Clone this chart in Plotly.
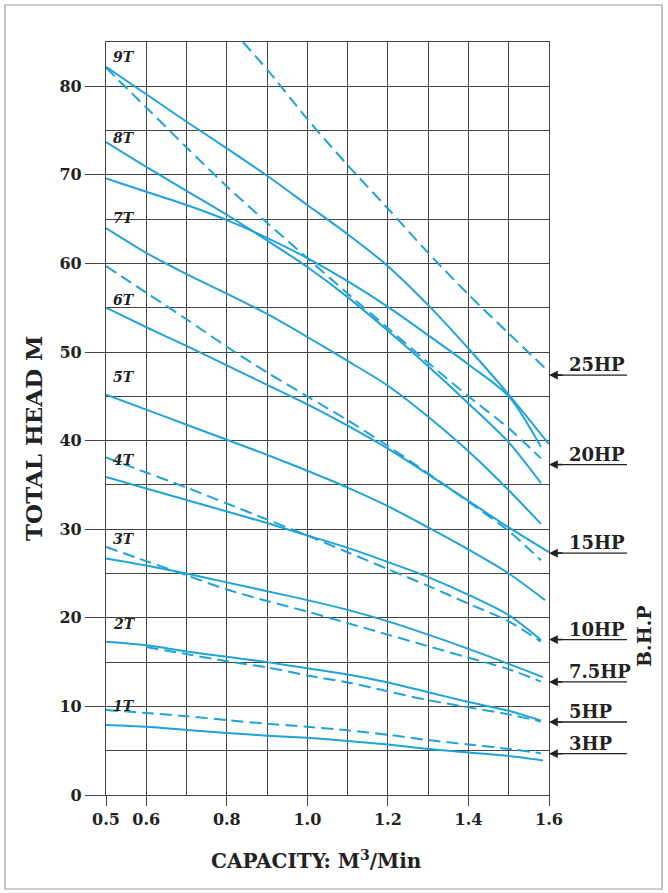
import plotly.graph_objects as go

# ---------------- data ----------------
q = [0.5, 0.6, 0.7, 0.8, 0.9, 1.0, 1.1, 1.2, 1.3, 1.4, 1.5]

# solid pump curves (total head, m)
q_9T = q + [1.60]
h_9T = [82.2, 79.1, 76.0, 73.0, 69.9, 66.6, 63.3, 59.7, 55.3, 50.4, 45.2, 39.6]
q_8Tb = q + [1.58]
h_8Tb = [69.6, 68.1, 66.6, 64.9, 62.9, 60.6, 58.0, 55.1, 51.9, 48.6, 45.0, 39.3]
q_8T = q + [1.58]
h_8T = [73.7, 70.9, 68.2, 65.5, 62.6, 59.6, 56.2, 52.4, 48.4, 44.2, 39.8, 35.2]
q_7T = q + [1.58]
h_7T = [64.0, 61.2, 58.8, 56.6, 54.3, 51.7, 49.0, 46.2, 42.7, 38.8, 34.4, 30.6]
q_6T = q + [1.60]
h_6T = [55.0, 52.8, 50.7, 48.5, 46.3, 44.1, 41.7, 39.1, 36.2, 33.2, 30.2, 27.4]
q_5T = q + [1.59]
h_5T = [45.2, 43.5, 41.8, 40.1, 38.4, 36.6, 34.7, 32.6, 30.2, 27.7, 25.0, 22.0]
q_4T = q + [1.58]
h_4T = [35.9, 34.6, 33.3, 32.0, 30.7, 29.3, 27.9, 26.3, 24.6, 22.6, 20.3, 17.5]
q_3T = q + [1.585]
h_3T = [26.7, 25.9, 25.0, 24.0, 23.0, 22.0, 20.9, 19.6, 18.1, 16.5, 14.8, 13.3]
q_2T = q + [1.58]
h_2T = [17.3, 16.9, 16.2, 15.6, 15.0, 14.3, 13.6, 12.7, 11.6, 10.5, 9.5, 8.4]
q_1T = q + [1.585]
h_1T = [7.9, 7.7, 7.35, 7.0, 6.7, 6.45, 6.1, 5.7, 5.2, 4.8, 4.4, 3.9]

# dashed power (B.H.P) curves
q_25HP = [0.84, 0.9, 1.0, 1.1, 1.2, 1.3, 1.4, 1.5, 1.59]
h_25HP = [85.0, 81.9, 76.3, 71.1, 66.2, 61.2, 56.5, 52.1, 48.2]
q_20HP = q + [1.58]
h_20HP = [82.1, 77.6, 73.1, 68.7, 64.6, 60.6, 56.6, 52.7, 48.8, 45.0, 41.4, 38.0]
q_15HP = q + [1.58]
h_15HP = [59.7, 56.7, 53.7, 50.6, 47.7, 45.0, 42.3, 39.4, 36.3, 33.1, 29.8, 26.5]
q_10HP = q + [1.58]
h_10HP = [38.1, 36.4, 34.7, 32.9, 31.1, 29.3, 27.4, 25.5, 23.6, 21.6, 19.6, 17.3]
q_7_5HP = q + [1.58]
h_7_5HP = [28.0, 26.4, 24.8, 23.2, 21.9, 20.7, 19.4, 18.1, 16.8, 15.5, 14.2, 12.8]
q_5HP = q[1:] + [1.58]
h_5HP = [16.7, 15.9, 15.1, 14.4, 13.5, 12.7, 11.7, 10.7, 9.9, 9.1, 8.3]
q_3HP = q + [1.58]
h_3HP = [9.6, 9.25, 8.9, 8.45, 8.05, 7.7, 7.3, 6.8, 6.2, 5.7, 5.2, 4.7]

pump_labels = ["9T", "8T", "7T", "6T", "5T", "4T", "3T", "2T", "1T"]
pump_label_head = [83.3, 74.2, 65.1, 55.9, 47.2, 37.8, 28.9, 19.3, 10.0]

hp_labels = ["25HP", "20HP", "15HP", "10HP", "7.5HP", "5HP", "3HP"]
hp_label_head = [47.4, 37.3, 27.3, 17.55, 12.76, 8.24, 4.66]

x_ticks = [0.5, 0.6, 0.8, 1.0, 1.2, 1.4, 1.6]
x_tick_text = ["0.5", "0.6", "0.8", "1.0", "1.2", "1.4", "1.6"]
y_ticks = [0, 10, 20, 30, 40, 50, 60, 70, 80]

X_RANGE = [0.5, 1.6]
Y_RANGE = [0, 85]

# ---------------- styling ----------------
W, H = 668, 893
L, R, T, B = 106, 549, 42, 795
BLUE = "#1fa3d9"
GRID = "#444444"
INK = "#222222"
FONT = "DejaVu Serif"


def pxx(px):
    return (px - L) / (R - L)


def pxy(py):
    return (B - py) / (B - T)


def yfrac(v):
    return (v - Y_RANGE[0]) / (Y_RANGE[1] - Y_RANGE[0])


fig = go.Figure()

solid = [(q_9T, h_9T), (q_8Tb, h_8Tb), (q_8T, h_8T), (q_7T, h_7T), (q_6T, h_6T),
         (q_5T, h_5T), (q_4T, h_4T), (q_3T, h_3T), (q_2T, h_2T), (q_1T, h_1T)]
dashed = [(q_25HP, h_25HP), (q_20HP, h_20HP), (q_15HP, h_15HP), (q_10HP, h_10HP),
          (q_7_5HP, h_7_5HP), (q_5HP, h_5HP), (q_3HP, h_3HP)]

for xs, ys in solid:
    fig.add_trace(go.Scatter(x=xs, y=ys, mode="lines", showlegend=False,
                             line=dict(color=BLUE, width=2, shape="spline", smoothing=0.8),
                             hoverinfo="skip"))
for xs, ys in dashed:
    fig.add_trace(go.Scatter(x=xs, y=ys, mode="lines", showlegend=False,
                             line=dict(color=BLUE, width=2, shape="spline", smoothing=0.8,
                                       dash="12px,6px"),
                             hoverinfo="skip"))

annotations = []
for lab, hv in zip(pump_labels, pump_label_head):
    annotations.append(dict(x=0.545, y=hv, xref="x", yref="y", text=lab, showarrow=False,
                            font=dict(family=FONT, size=14, color=INK, weight="bold",
                                      style="italic")))

shapes = []
for lab, hv in zip(hp_labels, hp_label_head):
    # arrow pointing at the right frame
    annotations.append(dict(x=X_RANGE[1], y=hv, xref="x", yref="y", text="",
                            showarrow=True, ax=15, ay=0, arrowhead=2, arrowsize=1.1,
                            arrowwidth=1.6, arrowcolor=INK, standoff=0))
    annotations.append(dict(x=pxx(567), y=hv, xref="paper", yref="y", text=lab,
                            showarrow=False, xanchor="left", yanchor="bottom",
                            yshift=-2,
                            font=dict(family=FONT, size=18, color=INK, weight="bold")))
    shapes.append(dict(type="line", xref="paper", yref="paper",
                       x0=pxx(552), x1=pxx(627), y0=yfrac(hv), y1=yfrac(hv),
                       line=dict(color=INK, width=1.3)))

annotations.append(dict(x=pxx(644), y=pxy(636), xref="paper", yref="paper", text="B.H.P",
                        showarrow=False, textangle=-90, xanchor="center", yanchor="middle",
                        font=dict(family=FONT, size=19, color=INK, weight="bold")))
annotations.append(dict(x=pxx(33), y=pxy(438), xref="paper", yref="paper",
                        text="TOTAL HEAD M", showarrow=False, textangle=-90,
                        xanchor="center", yanchor="middle",
                        font=dict(family=FONT, size=23, color=INK, weight="bold")))
annotations.append(dict(x=pxx(316), y=pxy(860), xref="paper", yref="paper",
                        text="CAPACITY: M<sup>3</sup>/Min", showarrow=False,
                        xanchor="center", yanchor="middle",
                        font=dict(family=FONT, size=20, color=INK, weight="bold")))

# outer border of the picture
shapes.append(dict(type="rect", xref="paper", yref="paper",
                   x0=pxx(5), x1=pxx(662), y0=pxy(889), y1=pxy(5),
                   line=dict(color="#9a9a9a", width=1.2)))

tick_font = dict(family=FONT, size=16, color=INK, weight="bold")

fig.update_layout(
    width=W, height=H,
    margin=dict(l=L, r=W - R, t=T, b=H - B, pad=0),
    paper_bgcolor="white", plot_bgcolor="white",
    annotations=annotations, shapes=shapes,
    xaxis=dict(range=X_RANGE, tickmode="array", tickvals=x_ticks, ticktext=x_tick_text,
               showgrid=True, gridcolor=GRID, gridwidth=1,
               showline=True, linecolor=GRID, linewidth=1.3, mirror=True,
               ticks="outside", ticklen=10, tickwidth=1.2, tickcolor=GRID,
               tickfont=tick_font, zeroline=False,
               minor=dict(tickmode="linear", tick0=0.5, dtick=0.1, showgrid=True,
                          gridcolor=GRID, gridwidth=1, ticks="")),
    yaxis=dict(range=Y_RANGE, tickmode="array", tickvals=y_ticks,
               showgrid=True, gridcolor=GRID, gridwidth=1,
               showline=True, linecolor=GRID, linewidth=1.3, mirror=True,
               ticks="outside", ticklen=20, tickwidth=1.2, tickcolor=GRID,
               tickfont=tick_font, zeroline=False,
               minor=dict(tickmode="linear", tick0=0, dtick=5, showgrid=True,
                          gridcolor=GRID, gridwidth=1, ticks="")),
)

fig.write_html("out.html",
               config={"displayModeBar": False},
               post_script="document.body.style.margin='0px';"
                           "document.body.style.overflow='hidden';")
